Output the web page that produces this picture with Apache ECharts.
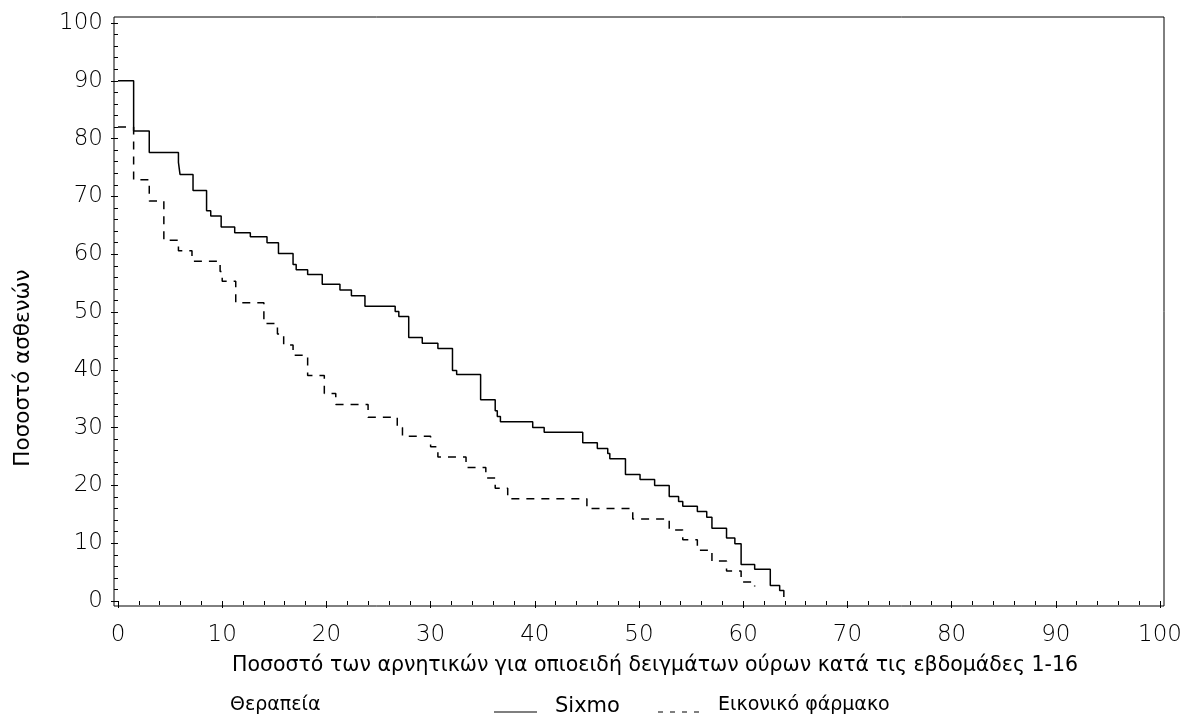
<!DOCTYPE html>
<html>
<head>
<meta charset="utf-8">
<script src="https://cdn.jsdelivr.net/npm/echarts@6/dist/echarts.min.js"></script>
<style>
  html, body { margin: 0; padding: 0; background: #fff; }
  #chart { width: 1187px; height: 725px; }
</style>
</head>
<body>
<div id="chart"></div>
<script>
// step points: x where the drop happens, value after the drop
const sixmoX = [0, 1.5, 3.0, 5.8, 5.95, 7.2, 8.5, 8.9, 9.9, 11.2, 12.7, 14.3, 15.4, 16.8, 17.1, 18.2, 19.6, 21.3, 22.4, 23.7, 26.6, 26.95, 27.9, 29.2, 30.7, 32.1, 32.5, 34.8, 36.2, 36.4, 36.7, 39.8, 40.9, 44.6, 46.0, 47.0, 47.2, 48.7, 50.1, 51.5, 52.9, 53.8, 54.2, 55.6, 56.5, 57.0, 58.4, 59.2, 59.8, 61.1, 62.6, 63.5, 63.9];
const sixmoY = [90, 81.3, 77.6, 75.9, 73.8, 71.0, 67.5, 66.6, 64.7, 63.7, 63.0, 62.0, 60.1, 58.2, 57.3, 56.5, 54.8, 53.8, 52.8, 51.0, 50.1, 49.2, 45.6, 44.6, 43.7, 39.9, 39.2, 34.8, 32.9, 31.9, 31.0, 30.0, 29.2, 27.4, 26.4, 25.5, 24.6, 21.9, 21.0, 20.0, 18.1, 17.2, 16.4, 15.5, 14.5, 12.6, 10.9, 9.9, 6.3, 5.5, 2.7, 1.8, 0.7];

const placeboX = [0, 1.5, 3.0, 4.4, 5.8, 7.1, 9.8, 10.0, 11.3, 14.0, 15.3, 15.9, 16.8, 18.2, 19.8, 20.9, 24.0, 26.8, 27.3, 30.0, 30.7, 33.4, 35.3, 36.2, 37.4, 45.0, 49.4, 52.9, 54.2, 55.6, 57.0, 58.4, 59.8, 61.1];
const placeboY = [82, 72.9, 69.2, 62.4, 60.6, 58.8, 57.0, 55.3, 51.6, 48.0, 46.2, 44.3, 42.5, 39.0, 35.9, 34.0, 31.8, 30.0, 28.5, 26.7, 24.9, 23.1, 21.3, 19.5, 17.7, 16.0, 14.2, 12.3, 10.6, 8.8, 6.9, 5.2, 3.3, 2.5];

const seriesNames = ["Sixmo", "Εικονικό φάρμακο"];
const xTitle = "Ποσοστό των αρνητικών για οπιοειδή δειγμάτων ούρων κατά τις εβδομάδες 1-16";
const yTitle = "Ποσοστό ασθενών";
const legendTitle = "Θεραπεία";

const chart = echarts.init(document.getElementById("chart"));

const tickFont = { fontFamily: "DejaVu Sans", fontWeight: 200, fontSize: 23, color: "#000" };
const textFont = { fontFamily: "DejaVu Sans", fontSize: 19, fill: "#000" };

const option = {
  animation: false,
  grid: { left: 118, right: 27, top: 23, bottom: 124 },
  xAxis: {
    type: "value",
    min: 0, max: 100, interval: 10,
    offset: 5,
    axisLine: { show: false },
    axisTick: { show: true, length: 7, lineStyle: { color: "#000", width: 1 } },
    minorTick: { show: true, splitNumber: 5, length: 4, lineStyle: { color: "#000", width: 1 } },
    axisLabel: Object.assign({ margin: 18 }, tickFont),
    splitLine: { show: false },
  },
  yAxis: {
    type: "value",
    min: 0, max: 100, interval: 10,
    offset: 4,
    axisLine: { show: false },
    axisTick: { show: true, length: 7, lineStyle: { color: "#000", width: 1 } },
    minorTick: { show: true, splitNumber: 5, length: 4, lineStyle: { color: "#000", width: 1 } },
    axisLabel: Object.assign({ margin: 11 }, tickFont),
    splitLine: { show: false },
  },
  graphic: [
    {
      type: "rect", silent: true, z: 10,
      shape: { x: 114, y: 17, width: 1050, height: 589 },
      style: { fill: null, stroke: "#000", lineWidth: 1 },
    },
    {
      type: "text", x: 655, y: 666,
      style: Object.assign({}, textFont, { text: xTitle, align: "center", verticalAlign: "middle", fontSize: 20.5 }),
    },
    {
      type: "text", x: 23, y: 368, rotation: Math.PI / 2,
      style: Object.assign({}, textFont, { text: yTitle, align: "center", verticalAlign: "middle", fontSize: 21.5 }),
    },
    // legend
    {
      type: "text", x: 230, y: 705,
      style: Object.assign({ text: legendTitle, align: "left", verticalAlign: "middle" }, textFont),
    },
    {
      type: "line", silent: true,
      shape: { x1: 494, y1: 712, x2: 537, y2: 712 },
      style: { stroke: "#000", lineWidth: 1.2 },
    },
    {
      type: "text", x: 555, y: 707,
      style: Object.assign({}, textFont, { text: seriesNames[0], align: "left", verticalAlign: "middle", fontSize: 21 }),
    },
    {
      type: "line", silent: true,
      shape: { x1: 658, y1: 712, x2: 701, y2: 712 },
      style: { stroke: "#000", lineWidth: 1.2, lineDash: [5, 7] },
    },
    {
      type: "text", x: 718, y: 705,
      style: Object.assign({ text: seriesNames[1], align: "left", verticalAlign: "middle" }, textFont),
    },
  ],
  series: [
    {
      name: seriesNames[0],
      type: "line",
      step: "end",
      symbol: "none",
      lineStyle: { color: "#000", width: 1.5, type: "solid" },
      data: sixmoX.map((x, i) => [x, sixmoY[i]]),
    },
    {
      name: seriesNames[1],
      type: "line",
      step: "end",
      symbol: "none",
      lineStyle: { color: "#000", width: 1.5, type: [8, 7] },
      data: placeboX.map((x, i) => [x, placeboY[i]]),
    },
  ],
};

chart.setOption(option);
</script>
</body>
</html>
